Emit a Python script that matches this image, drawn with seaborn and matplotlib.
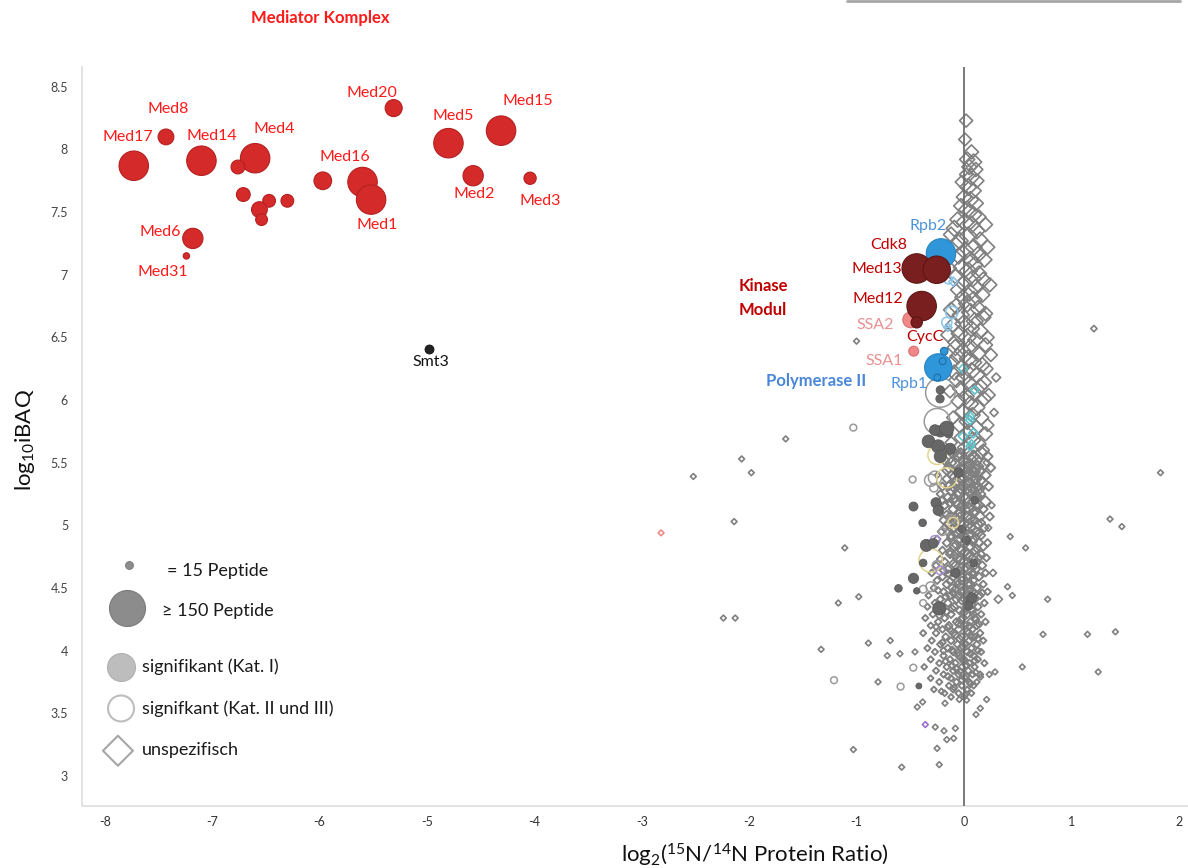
import matplotlib
matplotlib.use("Agg")
import matplotlib.pyplot as plt
import pandas as pd
import seaborn as sns
from matplotlib.lines import Line2D

sns.set_style("white")
plt.rcParams["font.family"] = ["Lato", "DejaVu Sans"]
plt.rcParams["mathtext.fontset"] = "custom"
plt.rcParams["mathtext.rm"] = "Lato"
plt.rcParams["mathtext.it"] = "Lato:italic"
plt.rcParams["mathtext.bf"] = "Lato:bold"
plt.rcParams["mathtext.default"] = "regular"

# ---------------------------------------------------------------------------
# Data: (log2 15N/14N ratio, log10 iBAQ, peptide count)
# ---------------------------------------------------------------------------
mediator = [
    (-7.73, 7.87, 150), (-7.43, 8.10, 43), (-7.10, 7.91, 150), (-6.60, 7.93, 150),
    (-6.76, 7.86, 33), (-6.71, 7.64, 33), (-6.47, 7.59, 28), (-6.30, 7.59, 28),
    (-6.56, 7.52, 43), (-6.54, 7.44, 24), (-5.97, 7.75, 54), (-5.60, 7.74, 150),
    (-5.52, 7.60, 150), (-5.31, 8.33, 50), (-4.80, 8.05, 150), (-4.31, 8.15, 150),
    (-4.57, 7.79, 71), (-4.04, 7.77, 26), (-7.18, 7.29, 71), (-7.24, 7.15, 7),
]
mediator_labels = ["Med17", "Med8", "Med14", "Med4", "Med16", "Med20", "Med5",
                   "Med15", "Med2", "Med3", "Med1", "Med6", "Med31"]
mediator_label_pos = [
    (-7.79, 8.10), (-7.41, 8.32), (-7.00, 8.11), (-6.42, 8.16), (-5.76, 7.94),
    (-5.51, 8.45), (-4.76, 8.27), (-4.06, 8.39), (-4.56, 7.645), (-3.95, 7.59),
    (-5.46, 7.395), (-7.48, 7.34), (-7.46, 7.02),
]

kinase = [(-0.44, 7.05, 150), (-0.254, 7.04, 130), (-0.394, 6.75, 150), (-0.44, 6.62, 22)]
kinase_labels = ["Cdk8", "Med13", "Med12", "CycC"]
kinase_label_pos = [(-0.70, 7.24), (-0.81, 7.045), (-0.80, 6.81), (-0.36, 6.505)]

ssa = [(-0.496, 6.64, 43), (-0.468, 6.39, 17)]
ssa_labels = ["SSA2", "SSA1"]
ssa_label_pos = [(-0.83, 6.60), (-0.74, 6.31)]

polymerase = [(-0.214, 7.17, 150), (-0.239, 6.26, 130)]
polymerase_sub = [(-0.184, 6.39, 10), (-0.198, 6.31, 8), (-0.249, 6.18, 8)]
polymerase_labels = ["Rpb2", "Rpb1"]
polymerase_label_pos = [(-0.33, 7.39), (-0.51, 6.13)]

smt3 = [(-4.98, 6.41, 14)]

sig_cat1 = [
    (-0.22, 6.08, 12), (-0.223, 6.01, 12), (-0.33, 5.67, 28), (-0.22, 5.75, 22),
    (-0.145, 5.735, 14), (-0.24, 5.63, 30), (-0.13, 5.61, 22), (-0.22, 5.55, 26),
    (-0.27, 5.76, 20), (-0.16, 5.775, 35), (-0.26, 5.18, 18), (-0.24, 5.12, 18),
    (-0.47, 5.15, 14), (-0.385, 5.02, 10), (-0.35, 4.84, 25), (-0.285, 4.856, 16),
    (-0.38, 4.70, 10), (-0.47, 4.577, 18), (-0.61, 4.497, 10), (-0.44, 4.477, 7),
    (-0.23, 4.337, 30), (-0.42, 3.718, 6), (0.07, 4.42, 20), (-0.05, 5.42, 16),
    (0.02, 4.88, 12), (-0.08, 4.62, 14), (0.10, 5.20, 10), (0.04, 4.36, 14),
    (-0.02, 4.97, 10), (0.09, 4.70, 10),
]

sig_cat23 = [
    (-1.03, 5.78, 8), (-0.478, 5.366, 8), (-1.21, 3.764, 8), (-0.59, 3.713, 8),
    (-0.472, 3.864, 8), (-0.22, 6.06, 150), (-0.25, 5.83, 115), (-0.27, 5.38, 30),
    (-0.31, 5.36, 26), (-0.38, 4.49, 10), (-0.31, 4.51, 16), (-0.25, 4.68, 16),
    (-0.38, 4.38, 8), (-0.28, 5.30, 12), (-0.12, 5.05, 14), (-0.20, 4.95, 10),
]
sig_cat23_yellow = [(-0.31, 4.72, 95), (-0.16, 5.38, 70), (-0.25, 5.56, 60), (-0.10, 5.02, 20)]
sig_cat23_blue = [(-0.145, 6.96, 12), (-0.114, 6.70, 26), (-0.16, 6.62, 18)]
sig_cat23_purple = [(-0.27, 4.88, 16), (-0.22, 4.64, 12)]

unspec_top = [
    (0.02, 8.23, 30), (0.01, 8.08, 28), (0.07, 7.98, 35), (0.03, 7.92, 40), (0.09, 7.90, 45),
    (0.05, 7.86, 40), (0.11, 7.84, 35), (0.02, 7.80, 30), (0.07, 7.78, 45), (0.12, 7.75, 35),
    (-0.02, 7.74, 30), (0.04, 7.70, 50), (0.09, 7.67, 40), (0.00, 7.62, 40), (0.06, 7.60, 45),
    (0.11, 7.57, 40), (-0.03, 7.55, 35), (0.03, 7.52, 50), (0.09, 7.48, 45), (0.14, 7.46, 35),
    (-0.06, 7.44, 40), (0.01, 7.42, 55), (0.07, 7.40, 50), (-0.09, 7.37, 45), (0.12, 7.35, 45),
    (-0.12, 7.32, 40), (0.04, 7.31, 55), (0.15, 7.28, 40), (-0.04, 7.27, 50), (-0.08, 7.24, 45),
    (0.09, 7.22, 50), (0.01, 7.19, 55), (0.13, 7.16, 45), (-0.05, 7.15, 45), (0.06, 7.12, 50),
    (0.10, 7.08, 45), (-0.02, 7.06, 50), (0.04, 7.03, 55), (0.14, 7.01, 40), (-0.08, 6.99, 40),
    (0.08, 6.97, 50), (0.24, 6.92, 35), (0.00, 6.93, 50), (0.11, 6.90, 45), (-0.05, 6.88, 45),
    (0.05, 6.86, 55), (0.17, 6.84, 40), (-0.01, 6.82, 45), (0.09, 6.80, 50),
    (-0.16, 7.20, 40), (0.19, 7.12, 40), (0.20, 7.40, 35), (-0.14, 7.05, 40), (0.18, 6.96, 40),
    (0.22, 7.22, 35),
]
unspec_upper = [
    (0.03, 6.77, 50), (-0.07, 6.75, 45), (0.13, 6.73, 45), (0.06, 6.70, 55), (-0.03, 6.68, 50),
    (0.18, 6.66, 40), (0.10, 6.63, 50), (0.00, 6.61, 55), (-0.10, 6.60, 40), (0.07, 6.57, 45),
    (0.15, 6.55, 45), (-0.04, 6.53, 50), (0.03, 6.50, 55), (0.11, 6.48, 45), (-0.08, 6.46, 40),
    (0.20, 6.44, 35), (0.06, 6.42, 50), (-0.01, 6.39, 45), (0.13, 6.37, 45), (-0.06, 6.35, 40),
    (0.04, 6.33, 55), (0.09, 6.30, 45), (0.17, 6.28, 40), (-0.02, 6.26, 45), (0.07, 6.23, 50),
    (0.12, 6.20, 45), (0.00, 6.18, 50), (-0.07, 6.16, 40), (0.05, 6.13, 45), (0.15, 6.11, 40),
    (-0.03, 6.09, 45), (0.09, 6.06, 50), (0.02, 6.03, 45), (0.19, 6.01, 35), (-0.05, 5.99, 40),
    (0.06, 5.97, 45), (0.12, 5.94, 45), (-0.01, 5.91, 45), (0.08, 5.88, 40), (0.16, 5.86, 40),
    (0.03, 5.83, 45), (-0.04, 5.80, 40), (0.11, 5.78, 45), (0.05, 5.75, 40), (0.20, 5.73, 35),
    (-0.02, 5.70, 40), (0.08, 5.68, 45), (0.14, 5.65, 35), (0.01, 5.62, 40),
    (-0.12, 6.72, 40), (0.20, 6.69, 35), (-0.15, 6.52, 35), (0.22, 6.50, 30), (-0.11, 6.30, 35),
    (0.21, 6.25, 30), (-0.13, 6.07, 30), (0.23, 6.04, 30), (-0.10, 5.86, 30), (0.22, 5.80, 28),
    (-0.12, 5.66, 26), (0.18, 5.60, 26), (0.25, 6.36, 30), (0.19, 6.14, 35), (-0.08, 6.42, 45),
    (-0.09, 6.22, 40),
]
unspec_mid = [
    (-0.10, 5.58, 28), (0.04, 5.58, 22), (0.16, 5.58, 30), (-0.05, 5.55, 20), (0.09, 5.55, 26),
    (0.22, 5.55, 18), (-0.18, 5.52, 16), (0.00, 5.52, 30), (0.12, 5.52, 22), (-0.08, 5.49, 24),
    (0.06, 5.49, 18), (0.19, 5.49, 26), (-0.14, 5.46, 20), (0.02, 5.46, 28), (0.10, 5.46, 16),
    (0.25, 5.46, 14), (-0.06, 5.43, 22), (0.08, 5.43, 30), (0.15, 5.43, 18), (-0.11, 5.40, 18),
    (0.03, 5.40, 24), (0.20, 5.40, 20), (-0.16, 5.37, 14), (-0.02, 5.37, 26), (0.11, 5.37, 22),
    (-0.08, 5.34, 20), (0.06, 5.34, 16), (0.17, 5.34, 28), (-0.20, 5.31, 12), (0.00, 5.31, 22),
    (0.13, 5.31, 18), (0.23, 5.31, 14), (-0.12, 5.28, 18), (0.05, 5.28, 26), (0.09, 5.28, 14),
    (-0.04, 5.25, 22), (0.15, 5.25, 20), (-0.22, 5.25, 10), (-0.15, 5.22, 16), (0.02, 5.22, 24),
    (0.11, 5.22, 18), (-0.07, 5.19, 20), (0.08, 5.19, 14), (0.20, 5.19, 22), (-0.18, 5.16, 12),
    (-0.01, 5.16, 22), (0.14, 5.16, 18), (-0.10, 5.13, 16), (0.05, 5.13, 24), (0.18, 5.13, 14),
    (-0.22, 5.10, 10), (-0.03, 5.10, 20), (0.09, 5.10, 16), (-0.13, 5.07, 14), (0.02, 5.07, 22),
    (0.15, 5.07, 18), (0.24, 5.07, 12), (-0.06, 5.04, 18), (0.10, 5.04, 14), (-0.19, 5.04, 12),
    (-0.15, 5.01, 14), (0.00, 5.01, 20), (0.13, 5.01, 16), (-0.09, 4.98, 16), (0.06, 4.98, 22),
    (0.19, 4.98, 12), (-0.21, 4.95, 10), (-0.03, 4.95, 18), (0.11, 4.95, 14), (-0.12, 4.92, 14),
    (0.04, 4.92, 20), (0.16, 4.92, 12), (-0.05, 4.89, 16), (0.09, 4.89, 12), (-0.25, 4.89, 9),
    (-0.16, 4.86, 12), (0.01, 4.86, 18), (0.14, 4.86, 14), (0.22, 4.86, 10), (-0.09, 4.83, 14),
    (0.06, 4.83, 16), (0.18, 4.83, 12), (-0.20, 4.80, 10), (-0.02, 4.80, 16), (0.10, 4.80, 12),
    (-0.13, 4.77, 12), (0.03, 4.77, 16), (0.16, 4.77, 10), (-0.06, 4.74, 14), (0.08, 4.74, 12),
    (0.21, 4.74, 9), (-0.18, 4.71, 10), (0.00, 4.71, 14), (0.12, 4.71, 12),
]
unspec_low = [
    (-0.26, 4.68, 9), (-0.08, 4.68, 14), (0.05, 4.68, 10), (0.17, 4.68, 12),
    (-0.15, 4.65, 12), (0.01, 4.65, 9), (0.11, 4.65, 14),
    (-0.30, 4.62, 8), (-0.05, 4.62, 12), (0.08, 4.62, 10), (0.20, 4.62, 9),
    (-0.20, 4.59, 10), (-0.10, 4.59, 14), (0.03, 4.59, 9), (0.14, 4.59, 12),
    (-0.25, 4.56, 9), (-0.02, 4.56, 12), (0.09, 4.56, 10),
    (-0.16, 4.53, 12), (-0.06, 4.53, 9), (0.06, 4.53, 13), (0.18, 4.53, 9),
    (-0.28, 4.50, 8), (-0.11, 4.50, 12), (0.01, 4.50, 10), (0.12, 4.50, 12),
    (-0.19, 4.47, 9), (-0.03, 4.47, 13), (0.08, 4.47, 9), (0.22, 4.47, 8),
    (-0.33, 4.44, 7), (-0.13, 4.44, 11), (0.04, 4.44, 12), (0.15, 4.44, 9),
    (-0.22, 4.41, 9), (-0.07, 4.41, 12), (0.00, 4.41, 9), (0.10, 4.41, 11),
    (-0.27, 4.38, 8), (-0.15, 4.38, 11), (0.05, 4.38, 9), (0.19, 4.38, 8),
    (-0.34, 4.35, 7), (-0.09, 4.35, 12), (0.02, 4.35, 9), (0.13, 4.35, 10),
    (-0.21, 4.32, 9), (-0.04, 4.32, 11), (0.08, 4.32, 9),
    (-0.29, 4.29, 8), (-0.12, 4.29, 10), (0.03, 4.29, 11), (0.16, 4.29, 8),
    (-0.36, 4.26, 7), (-0.18, 4.26, 9), (-0.01, 4.26, 11), (0.10, 4.26, 9),
    (-0.24, 4.23, 8), (-0.07, 4.23, 10), (0.06, 4.23, 9), (0.20, 4.23, 8),
    (-0.31, 4.20, 7), (-0.14, 4.20, 10), (0.01, 4.20, 9), (0.12, 4.20, 10),
    (-0.20, 4.17, 8), (-0.05, 4.17, 11), (0.08, 4.17, 8),
    (-0.38, 4.14, 7), (-0.26, 4.14, 8), (-0.10, 4.14, 10), (0.04, 4.14, 9), (0.15, 4.14, 8),
    (-0.17, 4.11, 9), (-0.02, 4.11, 10), (0.10, 4.11, 8),
    (-0.30, 4.08, 7), (-0.12, 4.08, 9), (0.05, 4.08, 10), (0.18, 4.08, 7),
    (-0.22, 4.05, 8), (-0.06, 4.05, 10), (0.01, 4.05, 8), (0.12, 4.05, 9),
    (-0.34, 4.02, 7), (-0.15, 4.02, 9), (-0.03, 4.02, 10), (0.07, 4.02, 8),
    (-0.27, 3.99, 7), (-0.10, 3.99, 9), (0.03, 3.99, 9), (0.16, 3.99, 7),
    (-0.19, 3.96, 8), (-0.05, 3.96, 9), (0.09, 3.96, 8),
    (-0.31, 3.93, 7), (-0.13, 3.93, 8), (0.00, 3.93, 9), (0.13, 3.93, 7),
    (-0.23, 3.90, 7), (-0.08, 3.90, 9), (0.05, 3.90, 8), (0.19, 3.90, 7),
    (-0.37, 3.87, 6), (-0.16, 3.87, 8), (-0.02, 3.87, 8), (0.10, 3.87, 7),
    (-0.26, 3.84, 7), (-0.10, 3.84, 8), (0.04, 3.84, 8),
    (-0.19, 3.81, 7), (-0.05, 3.81, 8), (0.08, 3.81, 7), (0.15, 3.81, 7),
    (-0.31, 3.78, 6), (-0.12, 3.78, 7), (0.01, 3.78, 8),
    (-0.23, 3.75, 7), (-0.07, 3.75, 8), (0.05, 3.75, 7), (0.12, 3.75, 6),
    (-0.14, 3.72, 7), (-0.02, 3.72, 7), (0.09, 3.72, 6),
    (-0.28, 3.69, 6), (-0.10, 3.69, 7), (0.03, 3.69, 6),
    (-0.18, 3.66, 6), (-0.05, 3.66, 7), (0.07, 3.66, 6),
    (-0.12, 3.63, 6), (0.00, 3.63, 6),
]
unspec_core = [
    (-0.03, 5.57, 24), (0.07, 5.53, 18), (-0.12, 5.50, 20), (0.13, 5.47, 22), (-0.01, 5.44, 26),
    (0.05, 5.41, 20), (-0.09, 5.385, 18), (0.16, 5.36, 16), (0.01, 5.33, 24), (-0.14, 5.315, 14),
    (0.08, 5.29, 20), (-0.05, 5.27, 22), (0.12, 5.235, 16), (-0.10, 5.205, 18), (0.04, 5.18, 22),
    (-0.02, 5.145, 18), (0.10, 5.115, 16), (-0.16, 5.085, 12), (0.06, 5.055, 18), (-0.08, 5.025, 16),
    (0.03, 4.995, 20), (-0.11, 4.97, 14), (0.14, 4.94, 12), (-0.01, 4.915, 18), (0.08, 4.87, 14),
    (-0.07, 4.845, 16), (0.12, 4.815, 12), (-0.13, 4.79, 12), (0.05, 4.755, 14), (-0.03, 4.725, 16),
    (-0.10, 4.695, 12), (0.02, 4.665, 14), (-0.19, 4.64, 10), (0.09, 4.61, 12), (-0.02, 4.585, 14),
    (-0.13, 4.555, 10), (0.04, 4.525, 12), (-0.08, 4.49, 12), (0.10, 4.46, 10), (-0.17, 4.43, 9),
    (-0.02, 4.40, 12), (0.07, 4.365, 10), (-0.11, 4.335, 10), (0.00, 4.305, 12), (-0.23, 4.28, 8),
    (0.11, 4.25, 9), (-0.05, 4.215, 11), (-0.15, 4.185, 9), (0.03, 4.155, 10), (-0.08, 4.125, 10),
    (0.13, 4.095, 8), (-0.20, 4.065, 8), (-0.01, 4.035, 10), (-0.11, 4.005, 9), (0.06, 3.975, 9),
    (-0.03, 3.945, 10), (-0.17, 3.915, 8), (0.02, 3.885, 9), (-0.07, 3.855, 9), (0.11, 3.825, 7),
    (-0.15, 3.795, 8), (-0.02, 3.765, 8), (0.06, 3.735, 8), (-0.09, 3.705, 7), (-0.21, 3.675, 6),
    (0.01, 3.645, 7),
    (-0.06, 5.555, 20), (0.02, 5.495, 22), (-0.04, 5.455, 18), (0.10, 5.425, 20), (-0.07, 5.355, 22),
    (0.03, 5.345, 18), (-0.03, 5.295, 20), (0.07, 5.245, 18), (-0.06, 5.165, 18), (0.01, 5.125, 20),
    (-0.04, 5.065, 16), (0.05, 5.015, 18), (-0.06, 4.935, 16), (0.02, 4.895, 18), (-0.04, 4.815, 14),
    (0.01, 4.785, 16), (-0.05, 4.645, 12), (0.05, 4.595, 12), (-0.06, 4.555, 12), (0.00, 4.475, 12),
    (-0.05, 4.435, 12), (0.03, 4.395, 10), (-0.03, 4.245, 12), (0.05, 4.195, 10), (-0.04, 4.095, 10),
    (0.01, 4.055, 10), (-0.05, 3.985, 10), (0.00, 3.915, 9), (-0.04, 3.835, 9), (0.02, 3.795, 8),
    (-0.09, 5.30, 18), (-0.13, 5.18, 14), (-0.08, 5.06, 16), (-0.12, 4.90, 12), (-0.09, 4.76, 12),
    (-0.14, 4.61, 10), (-0.10, 4.46, 10), (-0.16, 4.31, 9), (-0.12, 4.16, 9), (-0.19, 4.00, 8),
    (-0.11, 3.88, 8), (0.08, 5.39, 18), (0.11, 5.16, 16), (0.07, 4.93, 14), (0.10, 4.68, 12),
    (0.06, 4.49, 10), (0.09, 4.29, 10), (0.07, 4.11, 9), (0.10, 3.92, 8), (-0.16, 5.44, 16),
    (-0.20, 5.20, 12), (-0.18, 4.98, 10), (-0.22, 4.73, 9), (-0.24, 4.48, 8), (-0.21, 4.34, 8),
    (-0.26, 4.19, 7), (0.15, 5.29, 14), (0.16, 5.02, 12), (0.14, 4.74, 10), (0.17, 4.46, 9),
    (0.14, 4.21, 8), (0.13, 4.00, 7),
]
unspec_outer = [
    (-1.66, 5.69, 6), (-2.07, 5.53, 6), (-1.98, 5.42, 6), (-2.52, 5.39, 6), (-2.14, 5.03, 6),
    (-1.11, 4.82, 6), (-0.98, 4.43, 6), (-1.17, 4.38, 6), (-2.24, 4.26, 6), (-2.13, 4.26, 6),
    (-1.33, 4.01, 6), (-0.89, 4.06, 6), (-0.80, 3.75, 6), (-1.03, 3.21, 6), (-0.686, 4.08, 6),
    (-0.714, 3.96, 6), (-0.596, 3.975, 6), (-0.456, 3.99, 6), (-0.58, 3.07, 6), (-0.23, 3.09, 6),
    (-0.25, 3.22, 6), (-0.435, 3.55, 6), (-0.385, 3.59, 6), (-0.177, 3.58, 6), (-0.096, 3.30, 6),
    (-0.16, 3.29, 6), (-0.08, 3.38, 6), (-0.267, 3.39, 6), (-0.186, 3.36, 6), (0.112, 3.49, 6),
    (0.152, 3.54, 6), (0.211, 3.61, 6), (0.025, 3.605, 6), (-0.044, 3.61, 6), (0.289, 3.83, 6),
    (0.236, 3.81, 6), (0.155, 3.79, 6), (0.543, 3.87, 6), (0.736, 4.13, 6), (0.779, 4.41, 6),
    (0.431, 4.91, 6), (0.574, 4.82, 6), (0.406, 4.51, 6), (0.45, 4.44, 6), (0.32, 4.41, 12),
    (1.15, 4.13, 6), (1.41, 4.15, 6), (1.25, 3.83, 6), (1.36, 5.05, 6), (1.47, 4.99, 6),
    (1.83, 5.42, 6), (0.258, 5.16, 8), (0.227, 4.98, 8), (0.211, 5.50, 8), (1.21, 6.57, 7),
    (-1.00, 6.47, 6), (-0.248, 5.40, 6), (0.28, 5.90, 12), (0.30, 6.18, 14), (0.27, 4.62, 9),
]
unspec_cyan = [(0.056, 5.87, 14), (0.087, 5.735, 16), (-0.01, 5.71, 14), (0.056, 5.63, 12),
               (-0.01, 6.25, 14), (0.10, 6.08, 12), (0.056, 5.84, 14), (0.07, 5.65, 12)]
unspec_blue = [(-0.10, 6.945, 14), (-0.15, 6.58, 12)]
unspec_pink = [(-2.82, 4.94, 6)]
unspec_purple = [(-0.36, 3.41, 6)]

x_ticks = [-8, -7, -6, -5, -4, -3, -2, -1, 0, 1, 2]
y_ticks = [3, 3.5, 4, 4.5, 5, 5.5, 6, 6.5, 7, 7.5, 8, 8.5]
y_ticklabels = ["3", "3.5", "4", "4.5", "5", "5.5", "6", "6.5", "7", "7.5", "8", "8.5"]

# ---------------------------------------------------------------------------
cols = ["ratio", "ibaq", "pep"]
CIRCLE_MAX = 450   # marker area (pt^2) for 150 peptides
DIAMOND_MAX = 220

fig = plt.figure(figsize=(11.88, 8.68), dpi=100)
ax = fig.add_axes([82 / 1188, 62 / 868, 1106 / 1188, 739 / 868])


def bubbles(rows, marker, face, edge, lw, z, smax):
    df = pd.DataFrame(rows, columns=cols)
    sns.scatterplot(data=df, x="ratio", y="ibaq", size="pep", sizes=(0, smax),
                    size_norm=(0, 150), marker=marker, color=face, edgecolor=edge,
                    linewidth=lw, legend=False, ax=ax, zorder=z)


gray_d = "#808080"
for rows in (unspec_low, unspec_mid, unspec_core):
    bubbles(rows, "D", "none", gray_d, 1.35, 2, DIAMOND_MAX)
for rows in (unspec_upper, unspec_top, unspec_outer):
    bubbles(rows, "D", "none", gray_d, 1.2, 2, DIAMOND_MAX)
bubbles(unspec_cyan, "D", "none", "#5cc3cc", 1.2, 2.1, DIAMOND_MAX)
bubbles(unspec_blue, "D", "none", "#86bfe6", 1.2, 2.1, DIAMOND_MAX)
bubbles(unspec_pink, "D", "none", "#f08a8a", 1.2, 2.1, DIAMOND_MAX)
bubbles(unspec_purple, "D", "none", "#9b6fcf", 1.2, 2.1, DIAMOND_MAX)

bubbles(sig_cat23, "o", "none", "#9a9a9a", 1.1, 3, CIRCLE_MAX)
bubbles(sig_cat23_yellow, "o", "none", "#e3d38f", 1.1, 3, CIRCLE_MAX)
bubbles(sig_cat23_blue, "o", "none", "#8cc6ea", 1.1, 3, CIRCLE_MAX)
bubbles(sig_cat23_purple, "o", "none", "#a98fd6", 1.1, 3, CIRCLE_MAX)
bubbles(sig_cat1, "o", "#676767", "#5a5a5a", 0.6, 4, CIRCLE_MAX)

bubbles(polymerase, "o", "#2f97d9", "#2a84c0", 0.8, 5, CIRCLE_MAX)
bubbles(polymerase_sub, "o", "#2f97d9", "#1f6fa8", 0.8, 5.1, CIRCLE_MAX)
bubbles(ssa, "o", "#f08888", "#d97070", 0.8, 5.2, CIRCLE_MAX)
bubbles(kinase, "o", "#7a1f1f", "#5e1515", 0.8, 5.3, CIRCLE_MAX)
bubbles(mediator, "o", "#d42a2a", "#b52020", 0.8, 5, CIRCLE_MAX)
bubbles(smt3, "o", "#222222", "#111111", 0.6, 5, CIRCLE_MAX)

# vertical zero line
ax.axvline(0, color="#6f6f6f", lw=1.3, zorder=6)

# labels of the complexes
lab_kw = dict(ha="center", va="center", fontsize=11.5, zorder=7)
for t, (x, y) in zip(mediator_labels, mediator_label_pos):
    ax.text(x, y, t, color="#ff1a1a", **lab_kw)
for t, (x, y) in zip(kinase_labels, kinase_label_pos):
    ax.text(x, y, t, color="#c00000", **lab_kw)
for t, (x, y) in zip(ssa_labels, ssa_label_pos):
    ax.text(x, y, t, color="#e99090", **lab_kw)
for t, (x, y) in zip(polymerase_labels, polymerase_label_pos):
    ax.text(x, y, t, color="#4d93dc", **lab_kw)
ax.text(-4.96, 6.30, "Smt3", color="#111111", **lab_kw)
ax.text(-2.10, 6.91, "Kinase", color="#c00000", fontsize=12, fontweight="bold",
        ha="left", va="center")
ax.text(-2.10, 6.715, "Modul", color="#c00000", fontsize=12, fontweight="bold",
        ha="left", va="center")
ax.text(-1.38, 6.15, "Polymerase II", color="#4a87d9", fontsize=12, fontweight="bold",
        ha="center", va="center")
fig.text(320 / 1188, 1 - 18 / 868, "Mediator Komplex", color="#ff1a1a", fontsize=12,
         fontweight="bold", ha="center", va="center")

# axes styling
ax.set_xlim(-8.212, 2.086)
ax.set_ylim(2.76, 8.658)
ax.set_xticks(x_ticks)
ax.set_xticklabels([str(v) for v in x_ticks])
ax.set_yticks(y_ticks)
ax.set_yticklabels(y_ticklabels)
ax.tick_params(axis="x", length=0, pad=7, labelsize=9, labelcolor="#333333")
ax.tick_params(axis="y", length=4, width=0.8, color="#dddddd", pad=6, labelsize=9,
               labelcolor="#444444")
for s in ("top", "right"):
    ax.spines[s].set_visible(False)
for s in ("left", "bottom"):
    ax.spines[s].set_color("#e3e3e3")
    ax.spines[s].set_linewidth(1.4)
ax.set_xlabel("")
ax.set_ylabel("")

fig.text(755 / 1188, 1 - 855 / 868, r"log$_2$($^{15}$N/$^{14}$N Protein Ratio)",
         fontsize=16, ha="center", va="center", color="#111111")
fig.text(25 / 1188, 1 - 440 / 868, r"log$_{10}$iBAQ", fontsize=16, rotation=90,
         ha="center", va="center", color="#111111")

# legend
T = ax.transAxes
ax.scatter([0.0428], [0.326], s=33, color="#8c8c8c", edgecolor="#7a7a7a", lw=0.6,
           transform=T, zorder=8, clip_on=False)
ax.scatter([0.0404], [0.268], s=672, color="#8c8c8c", edgecolor="#7a7a7a", lw=0.8,
           transform=T, zorder=8, clip_on=False)
ax.scatter([0.0353], [0.1885], s=406, color="#bdbdbd", edgecolor="#b0b0b0", lw=0.8,
           transform=T, zorder=8, clip_on=False)
ax.scatter([0.0353], [0.132], s=350, color="none", edgecolor="#bdbdbd", lw=1.5,
           transform=T, zorder=8, clip_on=False)
ax.scatter([0.0325], [0.0748], s=233, marker="D", color="none", edgecolor="#a6a6a6",
           lw=1.5, transform=T, zorder=8, clip_on=False)
leg_kw = dict(transform=T, fontsize=13, color="#1a1a1a", ha="left", va="center")
ax.text(0.0766, 0.318, "= 15 Peptide", **leg_kw)
ax.text(0.0720, 0.264, "≥ 150 Peptide", **leg_kw)
ax.text(0.0540, 0.188, "signifikant (Kat. I)", **leg_kw)
ax.text(0.0540, 0.131, "signifkant (Kat. II und III)", **leg_kw)
ax.text(0.0540, 0.076, "unspezifisch", **leg_kw)

fig.add_artist(Line2D([847 / 1188, 1180 / 1188], [1 - 1 / 868, 1 - 1 / 868],
                      color="#a6a6a6", lw=2, transform=fig.transFigure))

fig.savefig("out.png", dpi=100, facecolor="white")
